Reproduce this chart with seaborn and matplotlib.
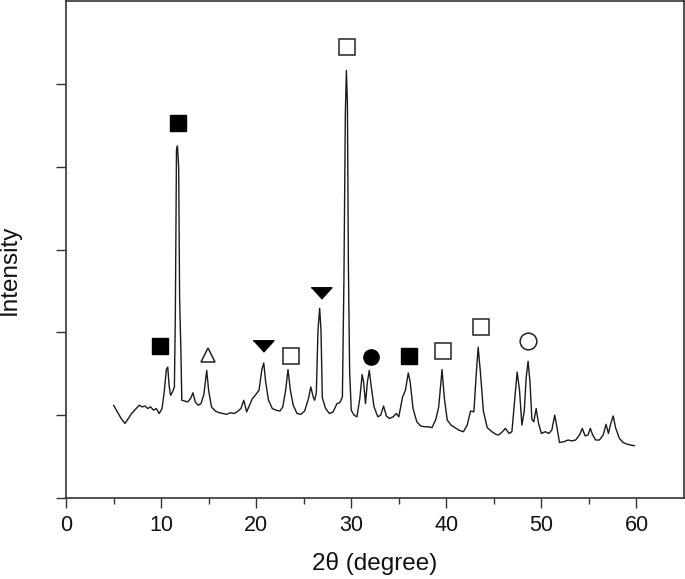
import numpy as np
import pandas as pd
import matplotlib
matplotlib.use("Agg")
import matplotlib.pyplot as plt
import seaborn as sns

# XRD pattern (2theta in degree, intensity in arbitrary units)
two_theta = [
    5.0, 5.4, 5.8, 6.2, 6.5, 6.9, 7.3, 7.7, 8.0, 8.3, 8.6, 8.9, 9.2, 9.5, 9.8,
    10.1, 10.35, 10.55, 10.7, 10.85, 11.0, 11.2, 11.4, 11.5, 11.62, 11.72, 11.85,
    11.95, 12.08, 12.18, 12.5, 12.8, 13.1, 13.35, 13.6, 13.9, 14.2, 14.5, 14.8,
    15.0, 15.3, 15.7, 16.1, 16.5, 16.9, 17.3, 17.7, 18.1, 18.4, 18.7, 19.0, 19.3,
    19.6, 19.9, 20.3, 20.6, 20.8, 21.0, 21.3, 21.7, 22.1, 22.5, 22.8, 23.1, 23.35,
    23.6, 23.9, 24.3, 24.7, 25.1, 25.5, 25.75, 26.0, 26.15, 26.33, 26.5, 26.68,
    26.82, 26.96, 27.3, 27.7, 28.1, 28.5, 28.8, 29.07, 29.23, 29.38, 29.49, 29.6,
    29.7, 29.83, 30.0, 30.3, 30.6, 30.9, 31.15, 31.3, 31.5, 31.7, 31.9, 32.1, 32.4,
    32.8, 33.1, 33.4, 33.7, 34.0, 34.4, 34.75, 35.0, 35.4, 35.7, 36.0, 36.2, 36.5,
    36.9, 37.3, 37.7, 38.1, 38.5, 38.9, 39.2, 39.55, 39.8, 40.1, 40.5, 40.9, 41.3,
    41.8, 42.2, 42.55, 42.9, 43.15, 43.35, 43.6, 43.9, 44.3, 44.8, 45.2, 45.5, 45.9,
    46.2, 46.6, 46.9, 47.2, 47.45, 47.7, 47.95, 48.2, 48.4, 48.6, 48.8, 49.0, 49.2,
    49.45, 49.7, 50.0, 50.4, 50.8, 51.1, 51.4, 51.6, 51.9, 52.4, 52.8, 53.2, 53.6,
    54.0, 54.3, 54.6, 54.9, 55.15, 55.4, 55.7, 56.1, 56.5, 56.8, 57.05, 57.3, 57.55,
    57.8, 58.2, 58.6, 59.0, 59.4, 59.8,
]
intensity = [
    1.12, 1.04, 0.96, 0.90, 0.95, 1.02, 1.07, 1.12, 1.10, 1.11, 1.08, 1.10, 1.06, 1.08, 1.02,
    1.08, 1.30, 1.55, 1.58, 1.35, 1.24, 1.28, 1.34, 2.20, 4.20, 4.25, 4.00,
    2.40, 1.80, 1.18, 1.17, 1.16, 1.20, 1.27, 1.16, 1.12, 1.14, 1.25, 1.54,
    1.30, 1.10, 1.05, 1.03, 1.02, 1.01, 1.03, 1.02, 1.05, 1.08, 1.18, 1.04, 1.12,
    1.20, 1.24, 1.30, 1.55, 1.63, 1.40, 1.18, 1.08, 1.06, 1.05, 1.10, 1.30, 1.55,
    1.30, 1.12, 1.02, 1.01, 1.05, 1.20, 1.34, 1.22, 1.18, 1.27, 2.02, 2.29,
    2.02, 1.21, 1.08, 1.02, 1.04, 1.14, 1.15, 1.22, 2.62, 4.64, 5.16, 4.76,
    2.83, 1.54, 1.06, 1.00, 0.98, 1.20, 1.49, 1.40, 1.14, 1.40, 1.54, 1.35, 1.10,
    0.98, 1.00, 1.11, 0.99, 0.96, 0.98, 1.02, 0.98, 1.22, 1.30, 1.51, 1.40, 1.08,
    0.92, 0.87, 0.86, 0.86, 0.85, 0.95, 1.10, 1.55, 1.20, 0.94, 0.88, 0.85, 0.82,
    0.80, 0.88, 1.05, 1.04, 1.50, 1.82, 1.50, 1.05, 0.85, 0.80, 0.77, 0.76, 0.80,
    0.84, 0.78, 0.80, 1.20, 1.52, 1.30, 0.88, 1.05, 1.45, 1.65, 1.40, 0.95, 0.92,
    1.08, 0.90, 0.78, 0.80, 0.78, 0.82, 1.00, 0.88, 0.67, 0.68, 0.70, 0.69, 0.70,
    0.76, 0.84, 0.75, 0.76, 0.84, 0.76, 0.70, 0.70, 0.76, 0.89, 0.78, 0.90, 0.99,
    0.85, 0.72, 0.67, 0.65, 0.64, 0.63,
]

# phase symbols placed above the peaks
filled_sq_x = [9.87, 11.76, 36.03]
filled_sq_y = [1.83, 4.53, 1.71]
open_sq_x = [23.63, 29.52, 39.6, 43.6]
open_sq_y = [1.72, 5.45, 1.78, 2.06]
down_tri_x = [20.69, 26.79]
down_tri_y = [1.83, 2.48]
open_tri_x = [14.92]
open_tri_y = [1.73]
filled_circ_x = [32.04]
filled_circ_y = [1.70]
open_circ_x = [48.63]
open_circ_y = [1.89]

sns.set_theme(style="ticks")
plt.rcParams["font.family"] = ["Liberation Sans", "DejaVu Sans"]

fig = plt.figure(figsize=(6.85, 5.79), dpi=100)
ax = fig.add_axes([66 / 685, 81 / 579, 618 / 685, 497 / 579])

df = pd.DataFrame({"two_theta": two_theta, "intensity": intensity})
sns.lineplot(data=df, x="two_theta", y="intensity", ax=ax, color="#1a1a1a",
             linewidth=1.0, estimator=None, sort=False)

flat_down = [(-1.0, 0.55), (1.0, 0.55), (0.0, -0.55)]
ax.plot(filled_sq_x, filled_sq_y, ls="none", marker="s", ms=12, mfc="black", mec="black")
ax.plot(open_sq_x, open_sq_y, ls="none", marker="s", ms=12, mfc="white", mec="#222222", mew=1.1)
ax.plot(down_tri_x, down_tri_y, ls="none", marker=flat_down, ms=15, mfc="black", mec="black")
ax.plot(open_tri_x, open_tri_y, ls="none", marker="^", ms=10, mfc="white", mec="#222222", mew=1.1)
ax.plot(filled_circ_x, filled_circ_y, ls="none", marker="o", ms=11, mfc="black", mec="black")
ax.plot(open_circ_x, open_circ_y, ls="none", marker="o", ms=12, mfc="white", mec="#222222", mew=1.1)

ax.set_xlim(0, 65)
ax.set_ylim(0, 6)
ax.set_xticks(np.arange(0, 61, 10))
ax.set_xticks(np.arange(5, 61, 10), minor=True)
ax.set_yticks(np.arange(0, 6, 1))
ax.tick_params(axis="y", labelleft=False)
ax.tick_params(which="major", direction="out", length=7, width=1.0, color="#333333",
               labelsize=15.5, labelcolor="#111111", pad=5)
ax.tick_params(which="minor", direction="out", length=4, width=1.0, color="#333333")

for side in ["left", "right", "top", "bottom"]:
    ax.spines[side].set_visible(True)
    ax.spines[side].set_color("#333333")
    ax.spines[side].set_linewidth(1.2)

ax.set_xlabel("2θ (degree)", fontsize=17.5, color="#111111")
ax.set_ylabel("Intensity", fontsize=17.5, color="#111111")
ax.xaxis.set_label_coords(0.5, -0.108)
ax.yaxis.set_label_coords(-0.073, 0.459)

fig.savefig("out.png", dpi=100)
